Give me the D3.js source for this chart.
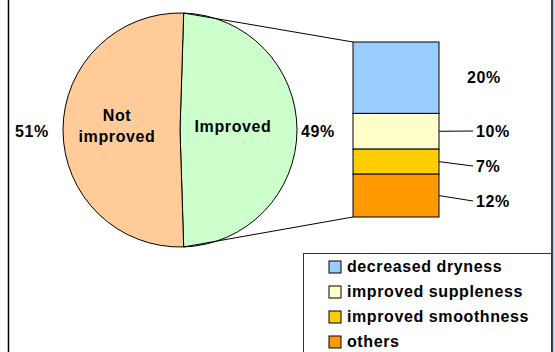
<!DOCTYPE html>
<html>
<head>
<meta charset="utf-8">
<script src="https://cdn.jsdelivr.net/npm/d3@7"></script>
<style>
  body { margin: 0; background: #fff; }
  text { font-family: "Liberation Sans", Arial, sans-serif; font-weight: bold; font-size: 16px; letter-spacing: 0.6px; fill: #000; }
</style>
</head>
<body>
<svg id="chart" width="555" height="352"></svg>
<script>
// pie data
var pieLabels = ["Improved", "Not improved"];
var pieValues = [49, 51];
var pieColors = ["#ccffcc", "#ffcc99"];

// bar (breakdown of "Improved")
var barLabels = ["decreased dryness", "improved suppleness", "improved smoothness", "others"];
var barValues = [20, 10, 7, 12];
var barColors = ["#99ccff", "#ffffcc", "#ffcc00", "#ff9900"];

var svg = d3.select("#chart");

// frame
svg.append("rect").attr("x", 553).attr("y", 0).attr("width", 2).attr("height", 352).attr("fill", "#ccccff");
svg.append("line").attr("x1", 8.5).attr("x2", 8.5).attr("y1", 0).attr("y2", 352).attr("stroke", "#000").attr("stroke-width", 1.5);
svg.append("line").attr("x1", 552).attr("x2", 552).attr("y1", 0).attr("y2", 352).attr("stroke", "#000").attr("stroke-width", 1.5);

var cx = 180, cy = 130, r = 117;
var total = d3.sum(pieValues);
var start = Math.PI / 2 - Math.PI * pieValues[0] / total;

var pie = d3.pie().sort(null).startAngle(start).endAngle(start + 2 * Math.PI);
var arcs = pie(pieValues);
var arc = d3.arc().innerRadius(0).outerRadius(r);

var g = svg.append("g").attr("transform", "translate(" + cx + "," + cy + ")");
g.selectAll("path")
  .data(arcs)
  .enter()
  .append("path")
    .attr("d", arc)
    .attr("fill", (d, i) => pieColors[i])
    .attr("stroke", "#000")
    .attr("stroke-width", 1);

// bar stack
var barX = 353, barW = 86;
var y = d3.scaleLinear()
          .domain([0, d3.sum(barValues)])
          .range([42, 217]);
var cum = 0;
var stacks = barValues.map(v => { var s = { y0: cum, y1: cum + v, v: v }; cum += v; return s; });

svg.selectAll(".seg")
  .data(stacks)
  .enter()
  .append("rect")
    .classed("seg", true)
    .attr("x", barX)
    .attr("y", d => y(d.y0))
    .attr("width", barW)
    .attr("height", d => y(d.y1) - y(d.y0))
    .attr("fill", (d, i) => barColors[i])
    .attr("stroke", "#000")
    .attr("stroke-width", 1);

// connector lines from the split points to the bar
var a0 = arcs[0].startAngle, a1 = arcs[0].endAngle;
svg.append("line")
  .attr("x1", cx + r * Math.sin(a0)).attr("y1", cy - r * Math.cos(a0))
  .attr("x2", barX).attr("y2", y(0))
  .attr("stroke", "#000");
svg.append("line")
  .attr("x1", cx + r * Math.sin(a1)).attr("y1", cy - r * Math.cos(a1))
  .attr("x2", barX).attr("y2", y(d3.sum(barValues)))
  .attr("stroke", "#000");

// pie labels
svg.append("text").attr("x", 233).attr("y", 132).attr("text-anchor", "middle").text(pieLabels[0]);
svg.append("text").attr("x", 117).attr("y", 121).attr("text-anchor", "middle").text("Not");
svg.append("text").attr("x", 117).attr("y", 142).attr("text-anchor", "middle").text("improved");
svg.append("text").attr("x", 15).attr("y", 137).text(pieValues[1] + "%");
svg.append("text").attr("x", 301).attr("y", 137).text(pieValues[0] + "%");

// bar labels
var labelY = [83, 137, 172, 207];
var labelX = [467, 476, 476, 476];
svg.selectAll(".blab")
  .data(stacks)
  .enter()
  .append("text")
    .classed("blab", true)
    .attr("x", (d, i) => labelX[i])
    .attr("y", (d, i) => labelY[i])
    .text(d => d.v + "%");

// leader lines for the small segments
stacks.slice(1).forEach((d, i) => {
  var my = (y(d.y0) + y(d.y1)) / 2;
  svg.append("line")
    .attr("x1", barX + barW).attr("y1", my)
    .attr("x2", 473).attr("y2", labelY[i + 1] - 6)
    .attr("stroke", "#000");
});

// legend
svg.append("rect")
  .attr("x", 303.5).attr("y", 253.5)
  .attr("width", 248).attr("height", 110)
  .attr("fill", "#fff")
  .attr("stroke", "#333");

var leg = svg.selectAll(".leg")
  .data(barLabels)
  .enter()
  .append("g")
    .classed("leg", true)
    .attr("transform", (d, i) => "translate(329," + (261 + i * 25) + ")");
leg.append("rect")
  .attr("width", 12).attr("height", 12)
  .attr("fill", (d, i) => barColors[i])
  .attr("stroke", "#000");
leg.append("text")
  .attr("x", 18).attr("y", 11)
  .text(d => d);
</script>
</body>
</html>
